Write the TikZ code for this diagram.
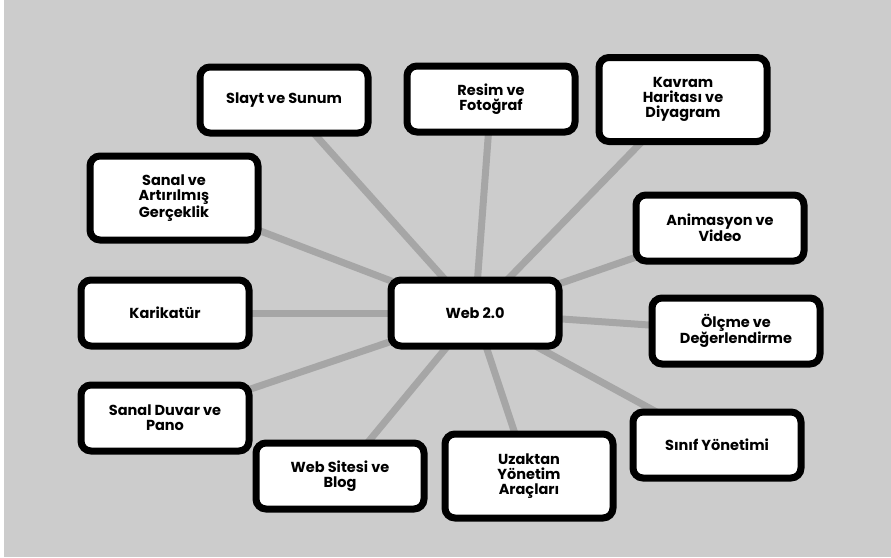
\documentclass[tikz,border=0pt]{standalone}
\usepackage{fontspec}
\setmainfont{Poppins}
\usetikzlibrary{backgrounds}
\definecolor{bggrey}{HTML}{CCCCCC}
\definecolor{linegrey}{HTML}{A6A6A6}
\tikzset{
  mmbox/.style={draw=black, fill=white, line width=7pt, rounded corners=10pt,
    minimum width=168pt, minimum height=66pt, align=center, inner sep=0pt,
    font=\fontsize{14.5}{15}\selectfont\bfseries},
  mmtall/.style={mmbox, minimum height=84pt},
  mmlink/.style={draw=linegrey, line width=7pt}
}
\begin{document}
\begin{tikzpicture}[x=1pt,y=-1pt]
\useasboundingbox (0,0) rectangle (891,557);
\node[mmbox] (web) at (475,313) {Web 2.0};
\node[mmbox] (slayt) at (284,100) {Slayt ve Sunum};
\node[mmbox] (resim) at (491,99) {Resim ve\\Fotoğraf};
\node[mmtall] (kavram) at (683,99.5) {Kavram\\Haritası ve\\Diyagram};
\node[mmtall] (sanal) at (174,198) {Sanal ve\\Artırılmış\\Gerçeklik};
\node[mmbox] (anim) at (720,228) {Animasyon ve\\Video};
\node[mmbox] (olcme) at (736,331) {Ölçme ve\\Değerlendirme};
\node[mmbox] (karikatur) at (165,313) {Karikatür};
\node[mmbox] (duvar) at (165,418) {Sanal Duvar ve\\Pano};
\node[mmbox] (blog) at (340,476) {Web Sitesi ve\\Blog};
\node[mmtall] (uzak) at (529,476) {Uzaktan\\Yönetim\\Araçları};
\node[mmbox] (sinif) at (717,445) {Sınıf Yönetimi};
\begin{pgfonlayer}{background}
\fill[bggrey] (0,0) rectangle (891,557);
\fill[white] (0,0) rectangle (4,557);
\foreach \n in {slayt,resim,kavram,sanal,anim,olcme,karikatur,duvar,blog,uzak,sinif}
  \draw[mmlink] (web.center) -- (\n.center);
\end{pgfonlayer}
\end{tikzpicture}
\end{document}
